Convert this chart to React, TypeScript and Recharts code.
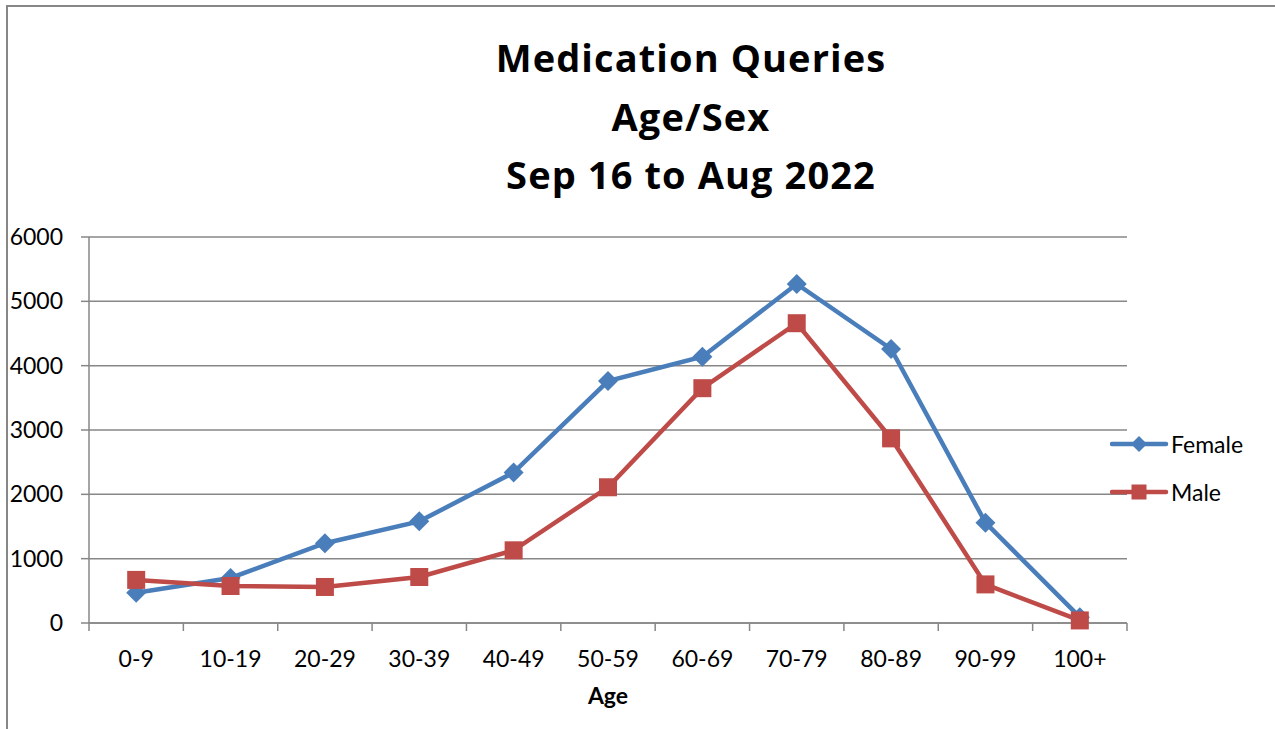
import { CartesianGrid, Legend, Line, LineChart, XAxis, YAxis } from "recharts";

const ageGroups = ["0-9", "10-19", "20-29", "30-39", "40-49", "50-59", "60-69", "70-79", "80-89", "90-99", "100+"];
const femaleCounts = [470, 700, 1240, 1580, 2340, 3760, 4140, 5270, 4260, 1560, 90];
const maleCounts = [670, 575, 560, 715, 1130, 2110, 3650, 4660, 2870, 600, 40];
const yTicks = [0, 1000, 2000, 3000, 4000, 5000, 6000];
const titleLines = ["Medication Queries", "Age/Sex", "Sep 16 to Aug 2022"];

const data = ageGroups.map((age, i) => ({ age, female: femaleCounts[i], male: maleCounts[i] }));

const FONT = "Lato, 'Open Sans', sans-serif";
const TITLE_FONT = "'Open Sans', Lato, sans-serif";
const GRAY = "#878787";
const BLUE = "#4A7EBB";
const RED = "#BE4B48";

const PLOT_LEFT = 89;
const PLOT_RIGHT = 1127;
const PLOT_TOP = 237;
const PLOT_BOTTOM = 623;
const BAND = (PLOT_RIGHT - PLOT_LEFT) / ageGroups.length;

const Diamond = ({ cx, cy, size = 10 }: { cx: number; cy: number; size?: number }) => (
  <path
    d={`M${cx},${cy - size} L${cx + size},${cy} L${cx},${cy + size} L${cx - size},${cy} Z`}
    fill={BLUE}
  />
);

const Square = ({ cx, cy, size = 9 }: { cx: number; cy: number; size?: number }) => (
  <rect x={cx - size} y={cy - size} width={size * 2} height={size * 2} fill={RED} />
);

const AgeTick = (props: any) => {
  const { x, payload, index } = props;
  const half = BAND / 2;
  return (
    <g>
      <line x1={x - half} x2={x - half} y1={PLOT_BOTTOM} y2={PLOT_BOTTOM + 8} stroke={GRAY} strokeWidth={1.5} />
      {index === ageGroups.length - 1 && (
        <line x1={x + half} x2={x + half} y1={PLOT_BOTTOM} y2={PLOT_BOTTOM + 8} stroke={GRAY} strokeWidth={1.5} />
      )}
      <text x={x} y={667} textAnchor="middle" fontSize={23} fontFamily={FONT} fill="#000">
        {payload.value}
      </text>
    </g>
  );
};

const LegendBox = () => (
  <div style={{ fontFamily: FONT, fontSize: 23, color: "#000" }}>
    {[
      { name: "Female", color: BLUE, marker: "diamond" },
      { name: "Male", color: RED, marker: "square" },
    ].map((item) => (
      <div key={item.name} style={{ display: "flex", alignItems: "center", height: 48 }}>
        <svg width={60} height={24}>
          <line x1={2} x2={56} y1={12} y2={12} stroke={item.color} strokeWidth={4.5} strokeLinecap="round" />
          {item.marker === "diamond" ? <Diamond cx={29} cy={12} size={8} /> : <Square cx={29} cy={12} size={7.5} />}
        </svg>
        <span style={{ marginLeft: 1 }}>{item.name}</span>
      </div>
    ))}
  </div>
);

export default function App() {
  return (
    <div style={{ position: "absolute", left: 0, top: 0, width: 1275, height: 729, background: "#fff", overflow: "hidden" }}>
      <div
        style={{
          position: "absolute",
          left: 6,
          top: 5,
          width: 1300,
          height: 740,
          borderLeft: `2px solid ${GRAY}`,
          borderTop: `2px solid ${GRAY}`,
        }}
      />
      <div
        style={{
          position: "absolute",
          left: 391,
          top: 28,
          width: 600,
          textAlign: "center",
          fontFamily: TITLE_FONT,
          fontWeight: 700,
          fontSize: 38,
          letterSpacing: 1.1,
          lineHeight: "58.5px",
          color: "#000",
        }}
      >
        {titleLines.map((t) => (
          <div key={t}>{t}</div>
        ))}
      </div>
      <LineChart
        width={1275}
        height={729}
        data={data}
        margin={{ top: PLOT_TOP, right: 1275 - PLOT_RIGHT, bottom: 46, left: 0 }}
        style={{ position: "absolute", left: 0, top: 0 }}
      >
        <CartesianGrid vertical={false} stroke={GRAY} strokeWidth={1.5} />
        <XAxis
          dataKey="age"
          scale="band"
          height={60}
          stroke={GRAY}
          strokeWidth={1.5}
          tickLine={false}
          tick={<AgeTick />}
          interval={0}
          label={{ value: "Age", position: "bottom", offset: 5, fontFamily: FONT, fontSize: 23, fontWeight: 700, fill: "#000" }}
        />
        <YAxis
          width={PLOT_LEFT}
          domain={[0, 6000]}
          ticks={yTicks}
          interval={0}
          stroke={GRAY}
          strokeWidth={1.5}
          tickSize={8}
          tickMargin={18}
          tick={{ fontFamily: FONT, fontSize: 23, fill: "#000" }}
        />
        <Legend
          layout="vertical"
          align="center"
          verticalAlign="middle"
          wrapperStyle={{ left: 1110, top: 420, width: 165 }}
          content={<LegendBox />}
        />
        <Line
          dataKey="female"
          name="Female"
          stroke={BLUE}
          strokeWidth={4.5}
          isAnimationActive={false}
          dot={(p: any) => <Diamond key={`f-${p.index}`} cx={p.cx} cy={p.cy} />}
          activeDot={false}
        />
        <Line
          dataKey="male"
          name="Male"
          stroke={RED}
          strokeWidth={4.5}
          isAnimationActive={false}
          dot={(p: any) => <Square key={`m-${p.index}`} cx={p.cx} cy={p.cy} />}
          activeDot={false}
        />
      </LineChart>
    </div>
  );
}
